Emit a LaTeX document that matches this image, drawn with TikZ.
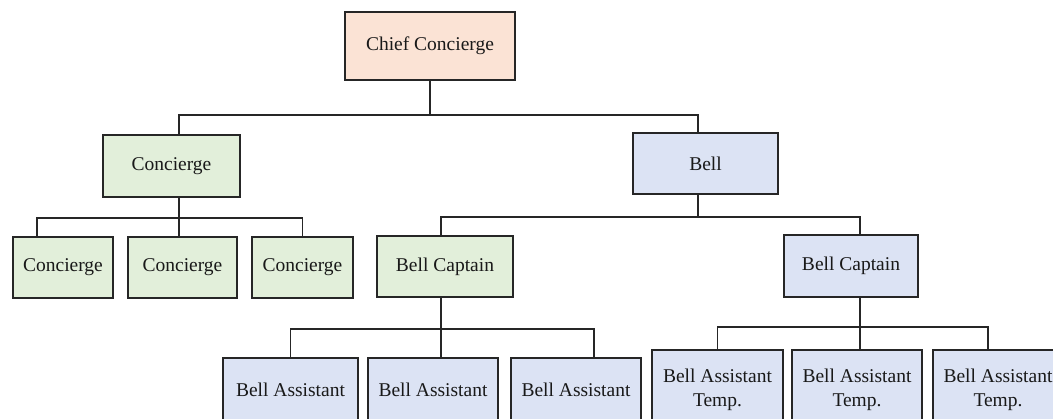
\documentclass[tikz,border=0pt]{standalone}
\usepackage{fontspec}
\setmainfont{Liberation Serif}
\usepackage{xcolor}
\usetikzlibrary{positioning}
\definecolor{chieffill}{HTML}{FBE3D5}
\definecolor{concfill}{HTML}{E2EFDA}
\definecolor{bellfill}{HTML}{DCE3F4}
\tikzset{
    box/.style={rectangle, draw=black!85, line width=2.8pt, text=black!90, align=center, inner sep=0pt, font=\fontsize{19.5}{24}\selectfont},
    chief/.style={box, fill=chieffill},
    conc/.style={box, fill=concfill},
    bell/.style={box, fill=bellfill},
    link/.style={line width=1.6pt, draw=black!85},
}

\begin{document}
\begin{tikzpicture}[x=1pt,y=-1pt]
  \useasboundingbox (0,0) rectangle (1053,418);
  \clip (0,0) rectangle (1053,418);
  \fill[white] (0,0) rectangle (1053,418);

  \node[chief, minimum width=170pt, minimum height=68pt] (chief) at (430,46) {Chief Concierge};

  \node[conc, minimum width=137pt, minimum height=62pt] (conc) at (171.5,166) {Concierge};
  \node[bell, minimum width=145pt, minimum height=61pt] (bell) at (705.5,163.5) {Bell};

  \node[conc, minimum width=100pt, minimum height=61pt] (concA) at (63,267.5) {Concierge};
  \node[conc, minimum width=109pt, minimum height=61pt] (concB) at (182.5,267.5) {Concierge};
  \node[conc, minimum width=101pt, minimum height=61pt] (concC) at (302.5,267.5) {Concierge};
  \node[conc, minimum width=136pt, minimum height=61pt] (capG) at (445,266.5) {Bell Captain};
  \node[bell, minimum width=134pt, minimum height=62pt] (capB) at (851,266) {Bell Captain};

  \node[bell, minimum width=135pt, minimum height=64pt] (asstA) at (290.5,390) {Bell Assistant};
  \node[bell, minimum width=130pt, minimum height=64pt] (asstB) at (433,390) {Bell Assistant};
  \node[bell, minimum width=130pt, minimum height=64pt] (asstC) at (576,390) {Bell Assistant};
  \node[bell, minimum width=131pt, minimum height=80pt] (tempA) at (717.5,390) {Bell Assistant\\Temp.};
  \node[bell, minimum width=130pt, minimum height=80pt] (tempB) at (857,390) {Bell Assistant\\Temp.};
  \node[bell, minimum width=130pt, minimum height=80pt] (tempC) at (998,390) {Bell Assistant\\Temp.};

  \coordinate (j1) at (430,115);
  \coordinate (j2) at (179,218);
  \coordinate (j3) at (698,217);
  \coordinate (j4) at (441,329);
  \coordinate (j5) at (860,327);

  \draw[link] (chief) -- (j1);
  \draw[link] ([xshift=7.5pt]conc.north) |- (j1) -| ([xshift=-7.5pt]bell.north);

  \draw[link] ([xshift=7.5pt]conc.south) -- (j2);
  \draw[link] ([xshift=-26pt]concA.north) |- (j2) -| (concC.north);
  \draw[link] (j2) -- (j2 |- concB.north);

  \draw[link] ([xshift=-7.5pt]bell.south) -- (j3);
  \draw[link] ([xshift=-4pt]capG.north) |- (j3) -| ([xshift=9pt]capB.north);

  \draw[link] ([xshift=-4pt]capG.south) -- (j4);
  \draw[link] (asstA.north) |- (j4) -| ([xshift=18pt]asstC.north);
  \draw[link] (j4) -- (j4 |- asstB.north);

  \draw[link] ([xshift=9pt]capB.south) -- (j5);
  \draw[link] (tempA.north) |- (j5) -| ([xshift=-10pt]tempC.north);
  \draw[link] (j5) -- (j5 |- tempB.north);
\end{tikzpicture}
\end{document}
